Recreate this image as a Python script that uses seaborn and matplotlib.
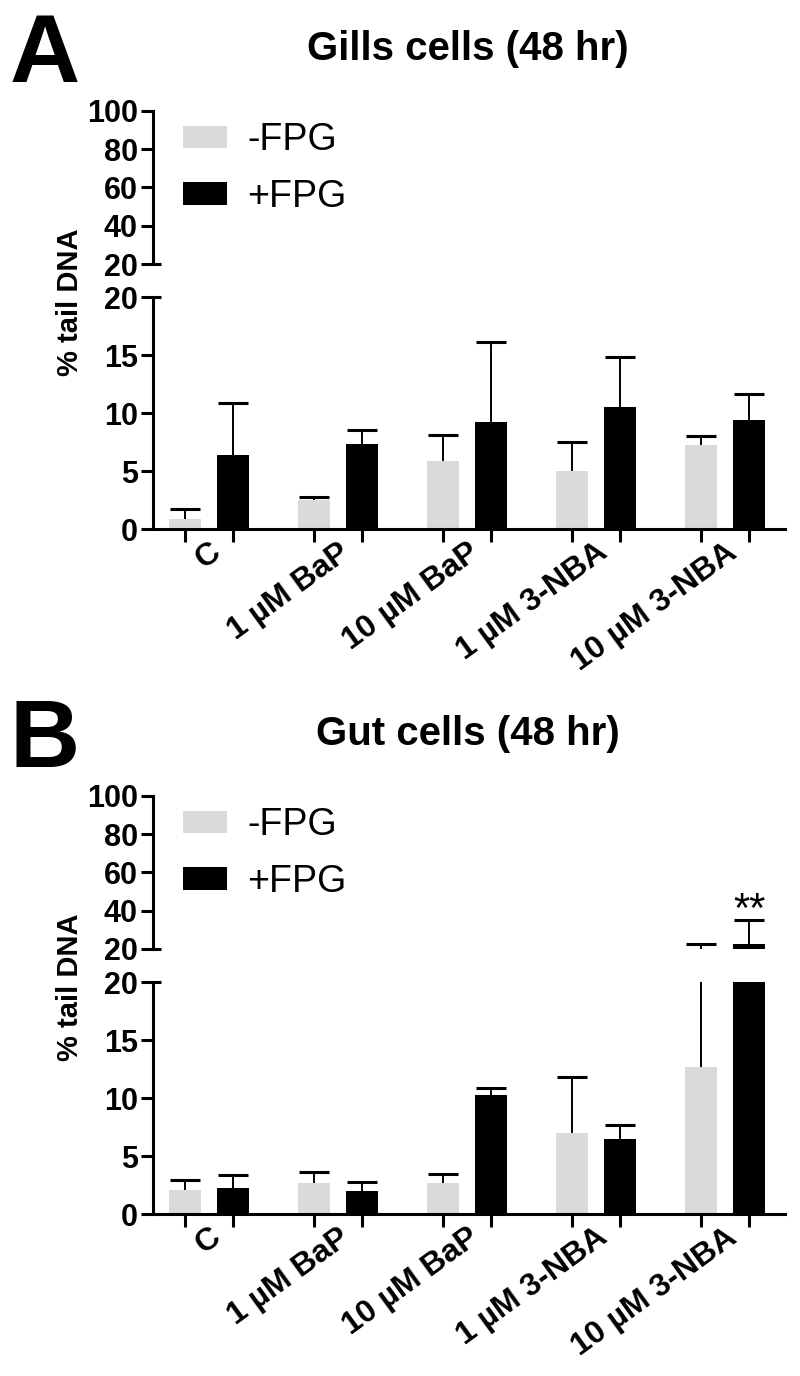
import matplotlib
matplotlib.use("Agg")
import matplotlib.pyplot as plt
import seaborn as sns
import pandas as pd

treatments = ["C", "1 µM BaP", "10 µM BaP", "1 µM 3-NBA", "10 µM 3-NBA"]
fpg_labels = ["-FPG", "+FPG"]

# Gills cells (48 hr): mean % tail DNA and upper error
gills_minus = [0.9, 2.5, 5.9, 5.0, 7.2]
gills_minus_err = [0.8, 0.3, 2.2, 2.5, 0.85]
gills_plus = [6.4, 7.3, 9.2, 10.5, 9.4]
gills_plus_err = [4.5, 1.2, 6.9, 4.3, 2.2]

# Gut cells (48 hr)
gut_minus = [2.05, 2.7, 2.7, 7.0, 12.7]
gut_minus_err = [0.9, 0.95, 0.75, 4.8, 9.9]
gut_plus = [2.2, 1.95, 10.25, 6.5, 22.4]
gut_plus_err = [1.2, 0.8, 0.6, 1.2, 12.6]

palette = {"-FPG": "#dadada", "+FPG": "black"}

sns.set_style("ticks")
plt.rcParams["font.family"] = ["Liberation Sans", "DejaVu Sans"]
plt.rcParams.update({
    "axes.linewidth": 2.2, "axes.edgecolor": "black", "text.color": "black",
    "axes.labelcolor": "black", "xtick.color": "black", "ytick.color": "black",
})

W, H = 800, 1376
fig = plt.figure(figsize=(W / 100, H / 100), dpi=100)


def fbox(x0, x1, y0, y1):
    # pixel box -> figure fraction [left, bottom, width, height]
    return [x0 / W, 1 - y1 / H, (x1 - x0) / W, (y1 - y0) / H]


def draw_panel(dy, minus, minus_err, plus, plus_err, title, letter, stars=None):
    ax_top = fig.add_axes(fbox(153, 785, 110.7 + dy, 264 + dy))
    ax_bot = fig.add_axes(fbox(153, 785, 297 + dy, 529 + dy))
    df = pd.DataFrame({
        "treatment": treatments * 2,
        "fpg": [fpg_labels[0]] * 5 + [fpg_labels[1]] * 5,
        "tail": minus + plus,
    })
    errs = [minus_err, plus_err]
    vals = [minus, plus]
    for ax in (ax_top, ax_bot):
        sns.barplot(data=df, x="treatment", y="tail", hue="fpg",
                    hue_order=fpg_labels, palette=palette, width=0.744,
                    gap=0.33, linewidth=0, legend=False, ax=ax, zorder=2)
        for i, cont in enumerate(ax.containers[:2]):
            xs = [p.get_x() + p.get_width() / 2 for p in cont]
            _, caps, _ = ax.errorbar(xs, vals[i], yerr=[[0] * 5, errs[i]],
                                     fmt="none", ecolor="black",
                                     elinewidth=1.4, capsize=11,
                                     capthick=2.2, zorder=3)
            caps[0].set_visible(False)  # upper error only
        ax.set_xlim(-0.434, 4.465)
        ax.set_xlabel("")
        ax.set_ylabel("")
        sns.despine(ax=ax)
        ax.tick_params(axis="y", length=9, width=2.2, labelsize=22, pad=2)
        # break mark at the 20 ends
        ax.plot([0, 0.012], [20, 20], transform=ax.get_yaxis_transform(),
                color="black", lw=2.2, clip_on=False, solid_capstyle="butt")

    ax_top.set_ylim(20, 100)
    ax_top.set_yticks([20, 40, 60, 80, 100])
    ax_top.set_yticklabels(["20", "40", "60", "80", "100"], fontweight="bold")
    ax_top.spines["bottom"].set_visible(False)
    ax_top.tick_params(axis="x", bottom=False, labelbottom=False)

    ax_bot.set_ylim(0, 20)
    ax_bot.set_yticks([0, 5, 10, 15, 20])
    ax_bot.set_yticklabels(["0", "5", "10", "15", "20"], fontweight="bold")
    bar_x = [p.get_x() + p.get_width() / 2
             for cont in ax_bot.containers[:2] for p in cont]
    ax_bot.set_xticks(range(len(treatments)))
    ax_bot.set_xticklabels(treatments, rotation=36, ha="right",
                           rotation_mode="anchor", fontsize=23,
                           fontweight="bold")
    ax_bot.tick_params(axis="x", which="major", length=0, pad=6)
    ax_bot.set_xticks(bar_x, minor=True)
    ax_bot.tick_params(axis="x", which="minor", length=9, width=2.2)

    ax_top.legend([c[0] for c in ax_top.containers[:2]], fpg_labels,
                  loc="upper left", bbox_to_anchor=(0.047, 0.925),
                  frameon=False, fontsize=27, handlelength=1.18,
                  handleheight=0.56, handletextpad=0.55, labelspacing=0.55,
                  borderpad=0, borderaxespad=0)

    if stars is not None:
        p = ax_top.containers[1][stars]
        ax_top.text(p.get_x() + p.get_width() / 2, 34, "**", ha="center",
                    va="baseline", fontsize=30)

    fig.text(0.012, 1 - (82 + dy) / H, letter, fontsize=70,
             fontweight="bold", va="baseline", ha="left")
    fig.text(468 / W, 1 - (60 + dy) / H, title, fontsize=29,
             fontweight="bold", va="baseline", ha="center")
    fig.text(70 / W, 1 - (302 + dy) / H, "% tail DNA", fontsize=21,
             fontweight="bold", rotation=90, va="center", ha="center")


draw_panel(0, gills_minus, gills_minus_err, gills_plus, gills_plus_err,
           "Gills cells (48 hr)", "A")
draw_panel(685, gut_minus, gut_minus_err, gut_plus, gut_plus_err,
           "Gut cells (48 hr)", "B", stars=4)

fig.savefig("out.png", dpi=100)
